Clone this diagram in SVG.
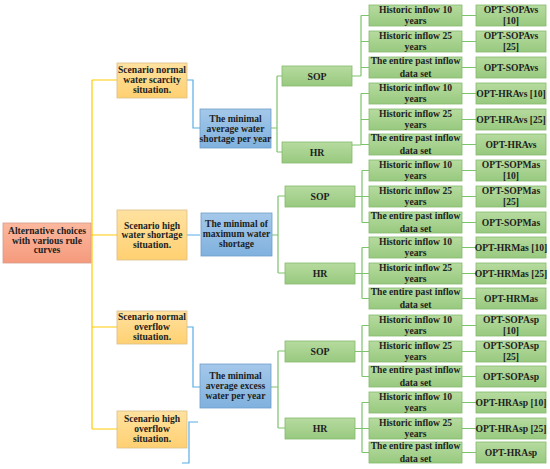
<svg xmlns="http://www.w3.org/2000/svg" width="550" height="469" viewBox="0 0 550 469">
<defs>
<linearGradient id="gGreen" x1="0" y1="0" x2="0" y2="1"><stop offset="0" stop-color="#B6DB9F"/><stop offset="1" stop-color="#98C97F"/></linearGradient>
<linearGradient id="gYellow" x1="0" y1="0" x2="0" y2="1"><stop offset="0" stop-color="#FFE2A0"/><stop offset="1" stop-color="#FFD071"/></linearGradient>
<linearGradient id="gBlue" x1="0" y1="0" x2="0" y2="1"><stop offset="0" stop-color="#A4C8EA"/><stop offset="1" stop-color="#80B1DE"/></linearGradient>
<linearGradient id="gRed" x1="0" y1="0" x2="0" y2="1"><stop offset="0" stop-color="#FCB89E"/><stop offset="1" stop-color="#F59A7D"/></linearGradient>
<style>
text{font-family:"Liberation Serif","Times New Roman",serif;font-weight:bold;font-size:9.6px;fill:#1E1E1E;text-anchor:middle}
.g rect{fill:url(#gGreen);stroke:#86B96C;stroke-width:0.8}
.y rect{fill:url(#gYellow);stroke:#D9BD88;stroke-width:0.8}
.b rect{fill:url(#gBlue);stroke:#6F9DC9;stroke-width:0.8}
.r rect{fill:url(#gRed);stroke:#D59C8A;stroke-width:0.8}
.big{font-size:9.8px}
#connectors path{fill:none;stroke-width:1.2}
.cy{stroke:#FFCC00}
.cb{stroke:#59ADE5}
.cg{stroke:#7CC46B}
</style>
</defs>
<rect width="550" height="469" fill="#FFFFFF"/>
<g id="connectors">
<path class="cy" d="M91,235H92M92,80V429M92,80H117M92,235H117M92,327H117M92,429H117"/>
<path class="cb" d="M187,80H193V128H200M187,235H200M187,327H193V387H200M198,422H189V463H182"/>
<path class="cg" d="M271,128H277M277,76V152M277,76H282M277,152H282"/>
<path class="cg" d="M272,235H278M278,196V273M278,196H285M278,273H285"/>
<path class="cg" d="M271,387H278M278,351V428M278,351H285M278,428H285"/>
<path class="cg" d="M352,76H361M361,15.5V76M361,15.5H369M361,41.5H369M361,67.5H369"/>
<path class="cg" d="M352,145H361M361,93.5V145M361,93.5H369M361,119.5H369M361,144.5H369"/>
<path class="cg" d="M355,196.5H362M362,170.5V222.5M362,170.5H369M362,196.5H369M362,222.5H369"/>
<path class="cg" d="M355,273.5H362M362,247.5V298.5M362,247.5H369M362,273.5H369M362,298.5H369"/>
<path class="cg" d="M355,351.5H362M362,325.5V376.5M362,325.5H369M362,351.5H369M362,376.5H369"/>
<path class="cg" d="M355,428.5H362M362,402.5V452.5M362,402.5H369M362,428.5H369M362,452.5H369"/>
<path class="cg" d="M462,15.5H476M462,41.5H476M462,67.5H476M462,93.5H476M462,119.5H476M462,144.5H476"/>
<path class="cg" d="M462,170.5H476M462,196.5H476M462,222.5H476M462,247.5H476M462,273.5H476M462,298.5H476"/>
<path class="cg" d="M462,325.5H476M462,351.5H476M462,376.5H476M462,402.5H476M462,428.5H476M462,452.5H476"/>
</g>
<g id="root" class="r"><rect x="3" y="223" width="88" height="40"/><text x="47" y="234">Alternative choices</text><text x="47" y="243.5">with various rule</text><text x="47" y="253">curves</text></g>
<g id="scen1" class="y"><rect x="117" y="63" width="70" height="35"/><text x="152" y="73">Scenario normal</text><text x="152" y="83">water scarcity</text><text x="152" y="93">situation.</text></g>
<g id="scen2" class="y"><rect x="117" y="210" width="70" height="50"/><text x="152" y="228.5">Scenario high</text><text x="152" y="238">water shortage</text><text x="152" y="247.5">situation.</text></g>
<g id="scen3" class="y"><rect x="117" y="311" width="70" height="33"/><text x="152" y="319.5">Scenario normal</text><text x="152" y="329.5">overflow</text><text x="152" y="339.5">situation.</text></g>
<g id="scen4" class="y"><rect x="117" y="411" width="70" height="37"/><text x="152" y="421.5">Scenario high</text><text x="152" y="431.5">overflow</text><text x="152" y="441.5">situation.</text></g>
<g id="obj1" class="b"><rect x="200" y="109" width="71" height="39"/><text x="235.5" y="121.5">The minimal</text><text x="235.5" y="131.5">average water</text><text x="235.5" y="141.5">shortage per year</text></g>
<g id="obj2" class="b"><rect x="201" y="213" width="71" height="43"/><text x="236.5" y="227">The minimal of</text><text x="236.5" y="237">maximum water</text><text x="236.5" y="247">shortage</text></g>
<g id="obj3" class="b"><rect x="200" y="364" width="71" height="44"/><text x="235.5" y="378.5">The minimal</text><text x="235.5" y="388.5">average excess</text><text x="235.5" y="398.5">water per year</text></g>
<g id="sop1" class="g"><rect x="282" y="66" width="70" height="20"/><text class="big" x="317" y="79.5">SOP</text></g>
<g id="hr1" class="g"><rect x="282" y="142" width="70" height="21"/><text class="big" x="317" y="156">HR</text></g>
<g id="sop2" class="g"><rect x="285" y="186" width="70" height="21"/><text class="big" x="320" y="200">SOP</text></g>
<g id="hr2" class="g"><rect x="285" y="263" width="70" height="21"/><text class="big" x="320" y="277">HR</text></g>
<g id="sop3" class="g"><rect x="285" y="341" width="70" height="21"/><text class="big" x="320" y="355">SOP</text></g>
<g id="hr3" class="g"><rect x="285" y="418" width="70" height="21"/><text class="big" x="320" y="432">HR</text></g>
<g id="l1" class="g"><rect x="369" y="5" width="93" height="21"/><text x="415.5" y="13.3">Historic inflow 10</text><text x="415.5" y="23.5">years</text></g>
<g id="l2" class="g"><rect x="369" y="31" width="93" height="21"/><text x="415.5" y="39.3">Historic inflow 25</text><text x="415.5" y="49.5">years</text></g>
<g id="l3" class="g"><rect x="369" y="57" width="93" height="21"/><text x="415.5" y="64">The entire past inflow</text><text x="415.5" y="77">data set</text></g>
<g id="l4" class="g"><rect x="369" y="83" width="93" height="21"/><text x="415.5" y="91.3">Historic inflow 10</text><text x="415.5" y="101.5">years</text></g>
<g id="l5" class="g"><rect x="369" y="109" width="93" height="21"/><text x="415.5" y="117.3">Historic inflow 25</text><text x="415.5" y="127.5">years</text></g>
<g id="l6" class="g"><rect x="369" y="134" width="93" height="21"/><text x="415.5" y="141">The entire past inflow</text><text x="415.5" y="154">data set</text></g>
<g id="l7" class="g"><rect x="369" y="160" width="93" height="21"/><text x="415.5" y="168.3">Historic inflow 10</text><text x="415.5" y="178.5">years</text></g>
<g id="l8" class="g"><rect x="369" y="186" width="93" height="21"/><text x="415.5" y="194.3">Historic inflow 25</text><text x="415.5" y="204.5">years</text></g>
<g id="l9" class="g"><rect x="369" y="212" width="93" height="21"/><text x="415.5" y="219">The entire past inflow</text><text x="415.5" y="232">data set</text></g>
<g id="l10" class="g"><rect x="369" y="237" width="93" height="21"/><text x="415.5" y="245.3">Historic inflow 10</text><text x="415.5" y="255.5">years</text></g>
<g id="l11" class="g"><rect x="369" y="263" width="93" height="21"/><text x="415.5" y="271.3">Historic inflow 25</text><text x="415.5" y="281.5">years</text></g>
<g id="l12" class="g"><rect x="369" y="288" width="93" height="21"/><text x="415.5" y="295">The entire past inflow</text><text x="415.5" y="308">data set</text></g>
<g id="l13" class="g"><rect x="369" y="315" width="93" height="21"/><text x="415.5" y="323.3">Historic inflow 10</text><text x="415.5" y="333.5">years</text></g>
<g id="l14" class="g"><rect x="369" y="341" width="93" height="21"/><text x="415.5" y="349.3">Historic inflow 25</text><text x="415.5" y="359.5">years</text></g>
<g id="l15" class="g"><rect x="369" y="366" width="93" height="21"/><text x="415.5" y="373">The entire past inflow</text><text x="415.5" y="386">data set</text></g>
<g id="l16" class="g"><rect x="369" y="392" width="93" height="21"/><text x="415.5" y="400.3">Historic inflow 10</text><text x="415.5" y="410.5">years</text></g>
<g id="l17" class="g"><rect x="369" y="418" width="93" height="21"/><text x="415.5" y="426.3">Historic inflow 25</text><text x="415.5" y="436.5">years</text></g>
<g id="l18" class="g"><rect x="369" y="442" width="93" height="21"/><text x="415.5" y="449">The entire past inflow</text><text x="415.5" y="462">data set</text></g>
<g id="r1" class="g"><rect x="476" y="5" width="70" height="21"/><text x="511" y="13.3">OPT-SOPAvs</text><text x="511" y="23.5">[10]</text></g>
<g id="r2" class="g"><rect x="476" y="31" width="70" height="21"/><text x="511" y="39.3">OPT-SOPAvs</text><text x="511" y="49.5">[25]</text></g>
<g id="r3" class="g"><rect x="476" y="57" width="70" height="21"/><text x="511" y="70.8">OPT-SOPAvs</text></g>
<g id="r4" class="g"><rect x="476" y="83" width="70" height="21"/><text x="511" y="96.8">OPT-HRAvs [10]</text></g>
<g id="r5" class="g"><rect x="476" y="109" width="70" height="21"/><text x="511" y="122.8">OPT-HRAvs [25]</text></g>
<g id="r6" class="g"><rect x="476" y="134" width="70" height="21"/><text x="511" y="147.8">OPT-HRAvs</text></g>
<g id="r7" class="g"><rect x="476" y="160" width="70" height="21"/><text x="511" y="168.3">OPT-SOPMas</text><text x="511" y="178.5">[10]</text></g>
<g id="r8" class="g"><rect x="476" y="186" width="70" height="21"/><text x="511" y="194.3">OPT-SOPMas</text><text x="511" y="204.5">[25]</text></g>
<g id="r9" class="g"><rect x="476" y="212" width="70" height="21"/><text x="511" y="225.8">OPT-SOPMas</text></g>
<g id="r10" class="g"><rect x="476" y="237" width="70" height="21"/><text x="511" y="250.8">OPT-HRMas [10]</text></g>
<g id="r11" class="g"><rect x="476" y="263" width="70" height="21"/><text x="511" y="276.8">OPT-HRMas [25]</text></g>
<g id="r12" class="g"><rect x="476" y="288" width="70" height="21"/><text x="511" y="301.8">OPT-HRMas</text></g>
<g id="r13" class="g"><rect x="476" y="315" width="70" height="21"/><text x="511" y="323.3">OPT-SOPAsp</text><text x="511" y="333.5">[10]</text></g>
<g id="r14" class="g"><rect x="476" y="341" width="70" height="21"/><text x="511" y="349.3">OPT-SOPAsp</text><text x="511" y="359.5">[25]</text></g>
<g id="r15" class="g"><rect x="476" y="366" width="70" height="21"/><text x="511" y="379.8">OPT-SOPAsp</text></g>
<g id="r16" class="g"><rect x="476" y="392" width="70" height="21"/><text x="511" y="405.8">OPT-HRAsp [10]</text></g>
<g id="r17" class="g"><rect x="476" y="418" width="70" height="21"/><text x="511" y="431.8">OPT-HRAsp [25]</text></g>
<g id="r18" class="g"><rect x="476" y="442" width="70" height="21"/><text x="511" y="455.8">OPT-HRAsp</text></g>
</svg>
